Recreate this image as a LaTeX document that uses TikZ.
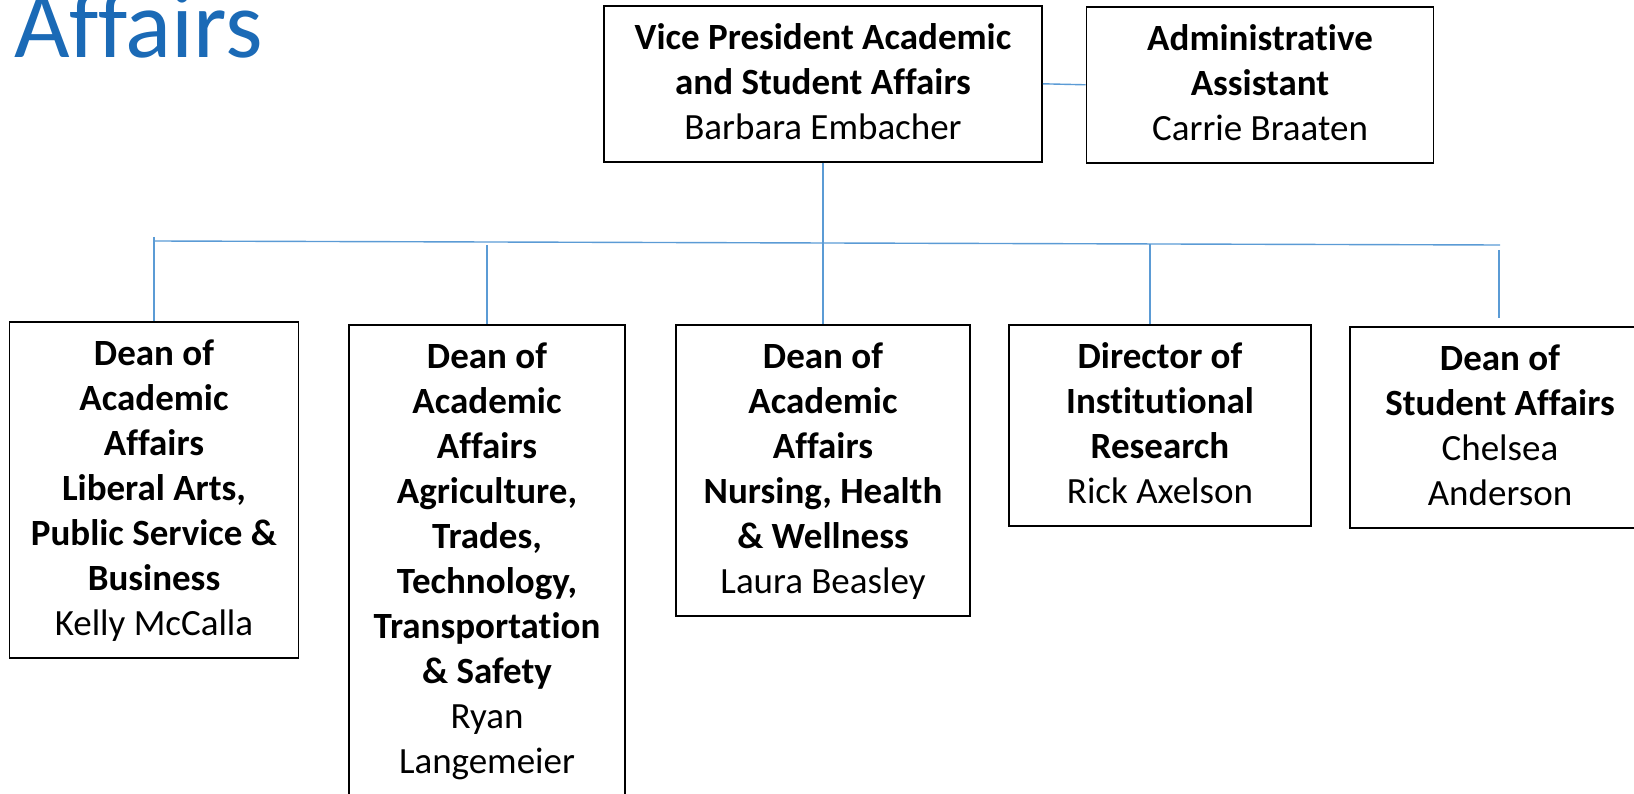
\documentclass[tikz,border=0pt]{standalone}
\usepackage{fontspec}
\setmainfont[Ligatures=NoCommon]{Carlito}
\usetikzlibrary{positioning}
\definecolor{linkblue}{HTML}{5B9BD5}
\definecolor{titleblue}{HTML}{1B6AB6}
\newcommand{\hirule}{\rule{0pt}{36pt}}
\tikzset{post/.style={
  draw, line width=1.6pt,
  align=center,
  inner xsep=0pt, inner ysep=8pt,
  anchor=north,
  font=\fontsize{37}{45}\selectfont,
  execute at end node={\rule[-14pt]{0pt}{14pt}}
}}
\tikzset{link/.style={
  draw=linkblue, line width=1.4pt
}}

\begin{document}
\begin{tikzpicture}[x=1pt,y=-1pt]
  \useasboundingbox (0,0) rectangle (1634,794);
  \clip (0,0) rectangle (1634,794);
  \node [anchor=base west, inner sep=0pt, text=titleblue,
    font=\fontsize{96}{115}\selectfont] (title) at (14,58) {Affairs};
  % top row
  \node [post, minimum width=438pt] (vp) at (823,5)
    {\hirule\textbf{Vice President Academic}\\ \textbf{and Student Affairs}\\ Barbara Embacher};
  \node [post, minimum width=347pt] (adm) at (1260,6)
    {\hirule\textbf{Administrative}\\ \textbf{Assistant}\\ Carrie Braaten};
  % bottom row
  \node [post, minimum width=289pt] (libarts) at (154,321)
    {\hirule\textbf{Dean of}\\ \textbf{Academic}\\ \textbf{Affairs}\\ \textbf{Liberal Arts,}\\
     \textbf{Public Service \&}\\ \textbf{Business}\\ Kelly McCalla};
  \node [post, minimum width=276pt] (agri) at (487,324)
    {\hirule\textbf{Dean of}\\ \textbf{Academic}\\ \textbf{Affairs}\\ \textbf{Agriculture,}\\
     \textbf{Trades,}\\ \textbf{Technology,}\\ \textbf{Transportation}\\ \textbf{\& Safety}\\
     Ryan\\ Langemeier};
  \node [post, minimum width=294pt] (nursing) at (823,324)
    {\hirule\textbf{Dean of}\\ \textbf{Academic}\\ \textbf{Affairs}\\ \textbf{Nursing, Health}\\
     \textbf{\& Wellness}\\ Laura Beasley};
  \node [post, minimum width=302pt] (research) at (1160,324)
    {\hirule\textbf{Director of}\\ \textbf{Institutional}\\ \textbf{Research}\\ Rick Axelson};
  \node [post, minimum width=300pt] (student) at (1500,326)
    {\hirule\textbf{Dean of}\\ \textbf{Student Affairs}\\ Chelsea\\ Anderson};
  % connectors
  \coordinate (busW) at (154,241);
  \coordinate (busE) at (1500,245);
  \coordinate (libartsTop) at (154,237);
  \coordinate (agriTop) at (487,245);
  \coordinate (researchTop) at (1150,244);
  \coordinate (studentTop) at (1499,250);
  \coordinate (studentEnd) at (1499,318);
  \draw [link] (vp.east) -- (adm.west);
  \draw [link] (vp.south) -- (nursing.north);
  \draw [link] (busW) -- (busE);
  \draw [link] (libartsTop) -- (libarts.north);
  \draw [link] (agriTop) -- (agri.north);
  \draw [link] (researchTop) -- (researchTop |- research.north);
  \draw [link] (studentTop) -- (studentEnd);
\end{tikzpicture}
\end{document}
